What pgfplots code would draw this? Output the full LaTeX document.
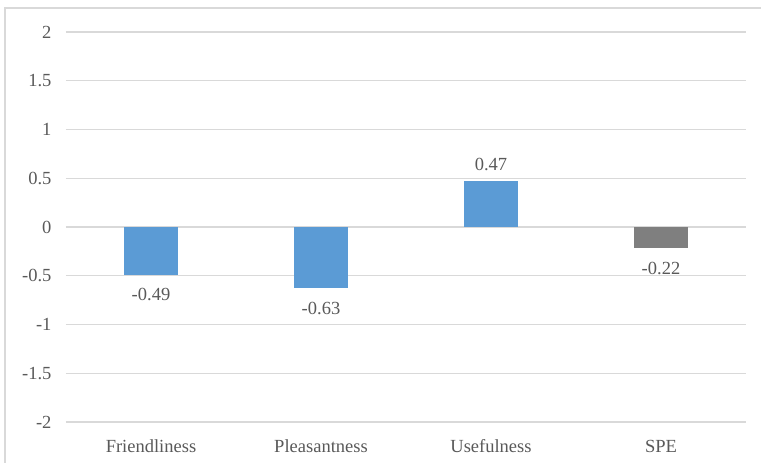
\documentclass[border=0pt]{standalone}
\usepackage{pgfplots}
\pgfplotsset{compat=1.18}
\usepackage{fontspec}
\setmainfont{Liberation Serif}
\definecolor{barblue}{HTML}{5B9BD5}
\definecolor{bargray}{HTML}{7F7F7F}
\definecolor{gridc}{HTML}{D9D9D9}
\definecolor{txt}{HTML}{595959}
\newcommand{\lblfont}{\fontsize{18.5}{22}\selectfont}
\begin{document}
\begin{tikzpicture}[x=1pt,y=1pt]
\useasboundingbox (0,0) rectangle (761,463);
\draw[gridc, line width=1.3pt] (5,0) -- (5,455) -- (761,455);
\begin{axis}[
  at={(66pt,41pt)}, anchor=south west,
  scale only axis, width=680pt, height=390pt,
  xmin=-0.5, xmax=3.5, ymin=-2, ymax=2,
  axis line style={draw=none},
  major tick style={draw=none},
  ymajorgrids, grid style={gridc, line width=1.3pt},
  xtick={0,1,2,3},
  xticklabels={Friendliness,Pleasantness,Usefulness,SPE},
  ytick={-2,-1.5,-1,-0.5,0,0.5,1,1.5,2},
  yticklabels={-2,-1.5,-1,-0.5,0,0.5,1,1.5,2},
  xticklabel style={font=\lblfont, text=txt, yshift=-10pt},
  yticklabel style={font=\lblfont, text=txt, xshift=-11pt},
  ybar, bar width=54pt, bar shift=0pt,
  point meta=y,
  nodes near coords,
  nodes near coords style={font=\lblfont, text=txt,
    /pgf/number format/assume math mode=true,
    /pgf/number format/fixed, /pgf/number format/precision=2,
    /pgf/number format/fixed zerofill},
  clip=false,
]
\addplot[fill=barblue, draw=none, nodes near coords style={yshift=-10pt}] coordinates {(0,-0.49)};
\addplot[fill=barblue, draw=none, nodes near coords style={yshift=-10pt}] coordinates {(1,-0.63)};
\addplot[fill=barblue, draw=none, nodes near coords style={yshift=7pt}] coordinates {(2,0.47)};
\addplot[fill=bargray, draw=none, nodes near coords style={yshift=-10pt}] coordinates {(3,-0.22)};
\end{axis}
\end{tikzpicture}
\end{document}
